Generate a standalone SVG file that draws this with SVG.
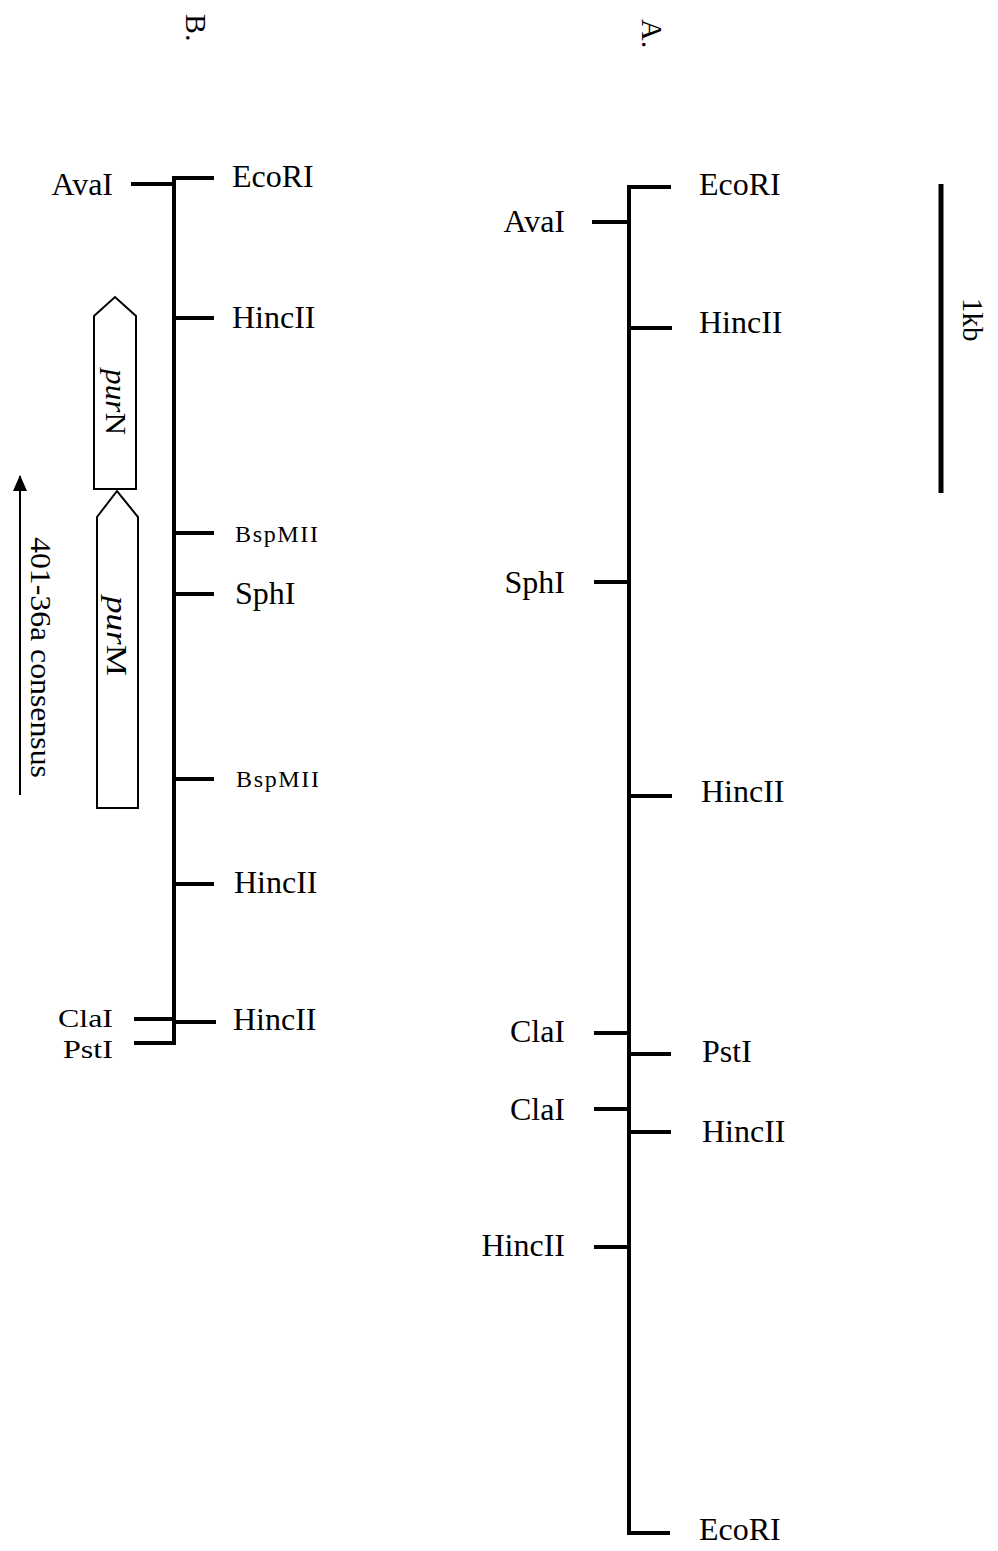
<svg xmlns="http://www.w3.org/2000/svg" width="998" height="1551" viewBox="0 0 998 1551">
<style>
text{font-family:"Liberation Serif","Times New Roman",serif;fill:#000}
.lb{font-size:32px}
.sm{font-size:24px}
.ln{stroke:#000;stroke-width:4;fill:none;stroke-linecap:butt}
.bx{stroke:#000;stroke-width:2;fill:#fff}
.it{font-style:italic}
</style>
<defs>
<marker id="ah" markerWidth="16" markerHeight="14" refX="15" refY="7" orient="auto" markerUnits="userSpaceOnUse" viewBox="0 0 16 14">
<path d="M0,0 L16,7 L0,14 Z" fill="#000"/>
</marker>
</defs>

<!-- Panel labels -->
<g id="labelB"><text transform="translate(186,14) rotate(90)" font-size="30">B.</text></g>
<g id="labelA"><text transform="translate(642,19) rotate(90)" font-size="30">A.</text></g>

<!-- Scale bar -->
<g id="scale">
<line x1="941" y1="184" x2="941" y2="493" stroke="#000" stroke-width="5"/>
<text transform="translate(963,298) rotate(90)" font-size="29">1kb</text>
</g>

<!-- Map B -->
<g id="mapB">
<path class="ln" d="M214,178 L174,178 L174,1043 L134,1043"/>
<g id="B-EcoRI"><text class="lb" x="232" y="187">EcoRI</text></g>
<g id="B-AvaI"><line class="ln" x1="131" y1="184" x2="174" y2="184"/><text class="lb" x="113" y="195" text-anchor="end">AvaI</text></g>
<g id="B-HincII1"><line class="ln" x1="174" y1="318" x2="214" y2="318"/><text class="lb" x="232" y="328">HincII</text></g>
<g id="B-BspMII1"><line class="ln" x1="174" y1="533" x2="214" y2="533"/><text class="sm" x="235" y="542" textLength="83" lengthAdjust="spacing">BspMII</text></g>
<g id="B-SphI"><line class="ln" x1="174" y1="594" x2="214" y2="594"/><text class="lb" x="235" y="604">SphI</text></g>
<g id="B-BspMII2"><line class="ln" x1="174" y1="779" x2="214" y2="779"/><text class="sm" x="236" y="787" textLength="83" lengthAdjust="spacing">BspMII</text></g>
<g id="B-HincII2"><line class="ln" x1="174" y1="884" x2="214" y2="884"/><text class="lb" x="234" y="893">HincII</text></g>
<g id="B-ClaI"><line class="ln" x1="134" y1="1019" x2="174" y2="1019"/><text x="58" y="1027" font-size="26" textLength="55" lengthAdjust="spacingAndGlyphs">ClaI</text></g>
<g id="B-HincII3"><line class="ln" x1="174" y1="1022" x2="216" y2="1022"/><text class="lb" x="233" y="1030">HincII</text></g>
<g id="B-PstI"><text x="63" y="1058" font-size="26" textLength="50" lengthAdjust="spacingAndGlyphs">PstI</text></g>
</g>

<!-- Genes -->
<g id="purN">
<polygon class="bx" points="94,316 115,297 136,316 136,489 94,489"/>
<text transform="translate(106,369) rotate(90)" font-size="30" textLength="66" lengthAdjust="spacingAndGlyphs"><tspan class="it">pur</tspan>N</text>
</g>
<g id="purM">
<polygon class="bx" points="97,517 117,491 138,517 138,808 97,808"/>
<text transform="translate(107,596) rotate(90)" font-size="30" textLength="80" lengthAdjust="spacingAndGlyphs"><tspan class="it">pur</tspan>M</text>
</g>

<!-- Consensus arrow -->
<g id="connectors">
<line x1="20" y1="795" x2="20" y2="476" stroke="#000" stroke-width="2" marker-end="url(#ah)"/>
</g>
<g id="consensus"><text transform="translate(31,537) rotate(90)" font-size="30" textLength="241" lengthAdjust="spacingAndGlyphs">401-36a consensus</text></g>

<!-- Map A -->
<g id="mapA">
<path class="ln" d="M671,187 L629,187 L629,1533 L670,1533"/>
<g id="A-EcoRI1"><text class="lb" x="699" y="195">EcoRI</text></g>
<g id="A-AvaI"><line class="ln" x1="592" y1="222" x2="629" y2="222"/><text class="lb" x="565" y="232" text-anchor="end">AvaI</text></g>
<g id="A-HincII1"><line class="ln" x1="629" y1="328" x2="672" y2="328"/><text class="lb" x="699" y="333">HincII</text></g>
<g id="A-SphI"><line class="ln" x1="594" y1="582" x2="629" y2="582"/><text class="lb" x="565" y="593" text-anchor="end">SphI</text></g>
<g id="A-HincII2"><line class="ln" x1="629" y1="796" x2="672" y2="796"/><text class="lb" x="701" y="802">HincII</text></g>
<g id="A-ClaI1"><line class="ln" x1="594" y1="1033" x2="629" y2="1033"/><text class="lb" x="565" y="1042" text-anchor="end">ClaI</text></g>
<g id="A-PstI"><line class="ln" x1="629" y1="1054" x2="671" y2="1054"/><text class="lb" x="702" y="1062">PstI</text></g>
<g id="A-ClaI2"><line class="ln" x1="594" y1="1109" x2="629" y2="1109"/><text class="lb" x="565" y="1120" text-anchor="end">ClaI</text></g>
<g id="A-HincII3"><line class="ln" x1="629" y1="1132" x2="671" y2="1132"/><text class="lb" x="702" y="1142">HincII</text></g>
<g id="A-HincII4"><line class="ln" x1="594" y1="1247" x2="629" y2="1247"/><text class="lb" x="565" y="1256" text-anchor="end">HincII</text></g>
<g id="A-EcoRI2"><text class="lb" x="699" y="1540">EcoRI</text></g>
</g>
</svg>
